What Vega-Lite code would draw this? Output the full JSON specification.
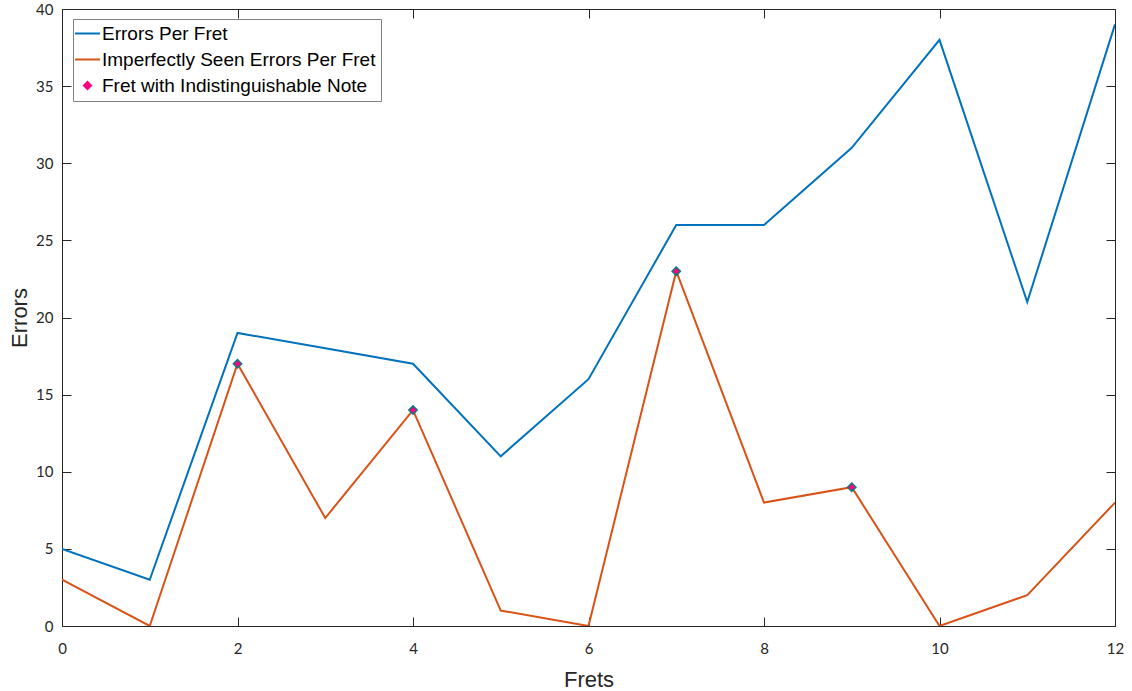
{
  "$schema": "https://vega.github.io/schema/vega-lite/v6.json",
  "width": 1053,
  "height": 617,
  "autosize": {"type": "none"},
  "padding": {"left": 62, "top": 9, "right": 17, "bottom": 65},
  "background": "white",
  "config": {
    "view": {"stroke": null},
    "axis": {
      "grid": false,
      "domainColor": "#262626",
      "tickColor": "#262626",
      "labelColor": "#262626",
      "titleColor": "#262626",
      "labelFont": "Lato",
      "labelFontSize": 15,
      "titleFont": "Liberation Sans",
      "titleFontSize": 22,
      "titleFontWeight": "normal",
      "tickSize": -9,
      "domainWidth": 1,
      "tickWidth": 1,
      "labelFlush": false
    }
  },
  "datasets": {
    "lines": [
      {"fret": 0, "errors": 5, "series": "Errors Per Fret"},
      {"fret": 1, "errors": 3, "series": "Errors Per Fret"},
      {"fret": 2, "errors": 19, "series": "Errors Per Fret"},
      {"fret": 3, "errors": 18, "series": "Errors Per Fret"},
      {"fret": 4, "errors": 17, "series": "Errors Per Fret"},
      {"fret": 5, "errors": 11, "series": "Errors Per Fret"},
      {"fret": 6, "errors": 16, "series": "Errors Per Fret"},
      {"fret": 7, "errors": 26, "series": "Errors Per Fret"},
      {"fret": 8, "errors": 26, "series": "Errors Per Fret"},
      {"fret": 9, "errors": 31, "series": "Errors Per Fret"},
      {"fret": 10, "errors": 38, "series": "Errors Per Fret"},
      {"fret": 11, "errors": 21, "series": "Errors Per Fret"},
      {"fret": 12, "errors": 39, "series": "Errors Per Fret"},
      {"fret": 0, "errors": 3, "series": "Imperfectly Seen Errors Per Fret"},
      {"fret": 1, "errors": 0, "series": "Imperfectly Seen Errors Per Fret"},
      {"fret": 2, "errors": 17, "series": "Imperfectly Seen Errors Per Fret"},
      {"fret": 3, "errors": 7, "series": "Imperfectly Seen Errors Per Fret"},
      {"fret": 4, "errors": 14, "series": "Imperfectly Seen Errors Per Fret"},
      {"fret": 5, "errors": 1, "series": "Imperfectly Seen Errors Per Fret"},
      {"fret": 6, "errors": 0, "series": "Imperfectly Seen Errors Per Fret"},
      {"fret": 7, "errors": 23, "series": "Imperfectly Seen Errors Per Fret"},
      {"fret": 8, "errors": 8, "series": "Imperfectly Seen Errors Per Fret"},
      {"fret": 9, "errors": 9, "series": "Imperfectly Seen Errors Per Fret"},
      {"fret": 10, "errors": 0, "series": "Imperfectly Seen Errors Per Fret"},
      {"fret": 11, "errors": 2, "series": "Imperfectly Seen Errors Per Fret"},
      {"fret": 12, "errors": 8, "series": "Imperfectly Seen Errors Per Fret"}
    ],
    "points": [
      {"fret": 2, "errors": 17, "series": "Fret with Indistinguishable Note"},
      {"fret": 4, "errors": 14, "series": "Fret with Indistinguishable Note"},
      {"fret": 7, "errors": 23, "series": "Fret with Indistinguishable Note"},
      {"fret": 9, "errors": 9, "series": "Fret with Indistinguishable Note"}
    ]
  },
  "layer": [
    {
      "data": {"name": "lines"},
      "mark": {"type": "line", "strokeWidth": 2, "clip": true},
      "encoding": {
        "x": {
          "field": "fret", "type": "quantitative",
          "scale": {"domain": [0, 12], "nice": false, "zero": false},
          "axis": {"title": "Frets", "values": [0, 2, 4, 6, 8, 10, 12], "labelPadding": 24, "titlePadding": 13, "orient": "bottom"}
        },
        "y": {
          "field": "errors", "type": "quantitative",
          "scale": {"domain": [0, 40], "nice": false},
          "axis": {"title": "Errors", "values": [0, 5, 10, 15, 20, 25, 30, 35, 40], "labelPadding": 18, "titlePadding": 4, "orient": "left"}
        },
        "color": {
          "field": "series", "type": "nominal",
          "scale": {
            "domain": ["Errors Per Fret", "Imperfectly Seen Errors Per Fret", "Fret with Indistinguishable Note"],
            "range": ["#0072BD", "#D95319", "#FF0080"]
          },
          "legend": {
            "title": null,
            "orient": "none",
            "legendX": 11,
            "legendY": 10,
            "fillColor": "white",
            "strokeColor": "#808080",
            "padding": 5,
            "labelFont": "Liberation Sans",
            "labelFontSize": 19,
            "labelColor": "#000000",
            "labelLimit": 400,
            "symbolType": "stroke",
            "symbolSize": 625,
            "symbolStrokeWidth": 2,
            "rowPadding": 6,
            "labelOffset": 5,
            "encode": {
              "symbols": {
                "update": {
                  "shape": {"signal": "datum.value === 'Fret with Indistinguishable Note' ? 'diamond' : 'stroke'"},
                  "size": {"signal": "datum.value === 'Fret with Indistinguishable Note' ? 60 : 625"},
                  "fill": {"signal": "datum.value === 'Fret with Indistinguishable Note' ? '#FF0080' : 'transparent'"},
                  "stroke": {"signal": "datum.value === 'Fret with Indistinguishable Note' ? '#008080' : (datum.value === 'Errors Per Fret' ? '#0072BD' : '#D95319')"},
                  "strokeWidth": {"signal": "datum.value === 'Fret with Indistinguishable Note' ? 1.5 : 2"}
                }
              }
            }
          }
        }
      }
    },
    {
      "data": {"name": "points"},
      "mark": {"type": "point", "shape": "diamond", "filled": true, "fill": "#FF0080", "stroke": "#008080", "strokeWidth": 1.5, "size": 70, "opacity": 1},
      "encoding": {
        "x": {
          "field": "fret", "type": "quantitative",
          "axis": {"orient": "top", "title": null, "labels": false, "values": [0, 2, 4, 6, 8, 10, 12]}
        },
        "y": {
          "field": "errors", "type": "quantitative",
          "axis": {"orient": "right", "title": null, "labels": false, "values": [0, 5, 10, 15, 20, 25, 30, 35, 40]}
        },
        "color": {"field": "series", "type": "nominal", "legend": null}
      }
    }
  ],
  "resolve": {"axis": {"x": "independent", "y": "independent"}}
}
